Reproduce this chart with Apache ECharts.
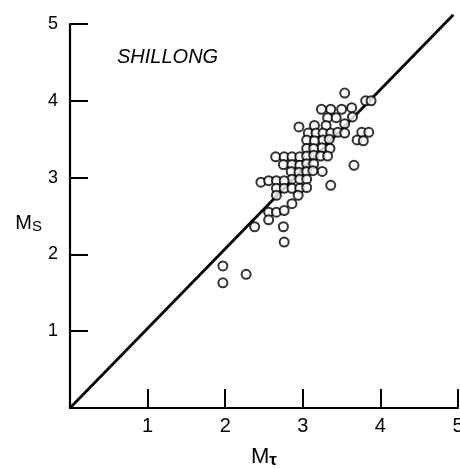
<!DOCTYPE html>
<html>
<head>
<meta charset="utf-8">
<script src="https://cdn.jsdelivr.net/npm/echarts@6/dist/echarts.min.js"></script>
<style>
  html, body { margin: 0; padding: 0; background: #fff; }
  #chart_ms { width: 460px; height: 469px; }
</style>
</head>
<body>
<div id="chart_ms"></div>
<script>
// M_tau (x) and Ms (y) for the Shillong events
var mt = [3.54, 3.81, 3.88, 3.24, 3.36, 3.50, 3.63, 3.32, 3.43, 3.64,
          2.95, 3.15, 3.30, 3.54, 3.07, 3.17, 3.26, 3.36, 3.45, 3.54, 3.76, 3.85,
          3.05, 3.15, 3.26, 3.34, 3.70, 3.78, 3.05, 3.14, 3.25, 3.35,
          2.65, 2.76, 2.86, 2.96, 3.05, 3.14, 3.23, 3.32,
          2.75, 2.86, 2.96, 3.05, 3.14, 3.66, 2.85, 2.95, 3.05, 3.13, 3.25,
          2.86, 2.96, 3.05, 2.46, 2.56, 2.66, 2.76,
          2.66, 2.76, 2.86, 2.96, 3.05, 3.36, 2.66, 2.94, 2.86,
          2.56, 2.66, 2.76, 2.56, 2.38, 2.75, 2.76, 1.97, 2.27, 1.97];
var ms = [4.10, 4.00, 4.00, 3.89, 3.89, 3.89, 3.91, 3.78, 3.78, 3.79,
          3.66, 3.68, 3.68, 3.70, 3.58, 3.58, 3.58, 3.58, 3.59, 3.58, 3.59, 3.59,
          3.49, 3.48, 3.49, 3.50, 3.49, 3.48, 3.38, 3.38, 3.39, 3.38,
          3.27, 3.27, 3.27, 3.27, 3.28, 3.29, 3.28, 3.28,
          3.17, 3.17, 3.16, 3.18, 3.18, 3.16, 3.08, 3.07, 3.08, 3.09, 3.08,
          2.98, 2.98, 2.98, 2.94, 2.96, 2.96, 2.96,
          2.86, 2.86, 2.86, 2.86, 2.87, 2.90, 2.77, 2.77, 2.66,
          2.55, 2.55, 2.57, 2.45, 2.36, 2.36, 2.16, 1.85, 1.74, 1.63];

// the fitted line, ends as drawn
var lineMt = [0, 4.94];
var lineMs = [0, 5.12];

var ticks = [0, 1, 2, 3, 4, 5];

var chart_ms = echarts.init(document.getElementById('chart_ms'));

var points = mt.map(function (v, i) { return [v, ms[i]]; });
var linePts = lineMt.map(function (v, i) { return [v, lineMs[i]]; });

var font = 'Liberation Sans, Arial, sans-serif';

var option = {
    backgroundColor: '#fff',
    animation: false,
    title: {
        text: 'SHILLONG',
        left: 117,
        top: 47,
        padding: 0,
        textStyle: {
            fontFamily: font,
            fontSize: 20,
            fontStyle: 'italic',
            fontWeight: 'normal',
            color: '#000'
        }
    },
    grid: {
        left: 70,
        right: 2,
        top: 24,
        bottom: 61,
        containLabel: false,
        outerBoundsMode: 'none'
    },
    xAxis: {
        type: 'value',
        min: ticks[0],
        max: ticks[ticks.length - 1],
        interval: 1,
        splitLine: { show: false },
        axisLine: { onZero: false, lineStyle: { color: '#000', width: 2.2 } },
        axisTick: { inside: true, length: 19, lineStyle: { color: '#000', width: 2 } },
        axisLabel: {
            showMinLabel: false,
            margin: 8,
            fontFamily: font,
            fontSize: 20,
            color: '#000'
        },
        name: 'M{sub|τ}',
        nameLocation: 'middle',
        nameGap: 36,
        nameTextStyle: {
            fontFamily: font,
            fontSize: 22,
            color: '#000',
            rich: {
                sub: { fontFamily: font, fontSize: 17, fontWeight: 'bold', color: '#000', padding: [8, 0, 0, 0] }
            }
        }
    },
    yAxis: {
        type: 'value',
        min: ticks[0],
        max: ticks[ticks.length - 1],
        interval: 1,
        splitLine: { show: false },
        axisLine: { onZero: false, lineStyle: { color: '#000', width: 2.2 } },
        axisTick: { inside: true, length: 18, lineStyle: { color: '#000', width: 2 } },
        axisLabel: {
            showMinLabel: false,
            margin: 12,
            fontFamily: font,
            fontSize: 18,
            color: '#000'
        },
        name: 'M{sub|S}',
        nameLocation: 'middle',
        nameRotate: 0,
        nameGap: 28,
        nameTextStyle: {
            fontFamily: font,
            fontSize: 20,
            color: '#000',
            padding: [0, 0, -14, 0],
            rich: {
                sub: { fontFamily: font, fontSize: 15, color: '#000', padding: [8, 0, 0, 0] }
            }
        }
    },
    series: [
        {
            name: 'line',
            type: 'line',
            data: linePts,
            clip: false,
            symbol: 'none',
            lineStyle: { color: '#000', width: 2.8 },
            z: 2
        },
        {
            name: 'events',
            type: 'scatter',
            data: points,
            symbol: 'circle',
            symbolSize: 9,
            itemStyle: { color: '#fff', borderColor: '#000', borderWidth: 2 },
            z: 3
        }
    ]
};

chart_ms.setOption(option);
window.onresize = chart_ms.resize;
</script>
</body>
</html>
